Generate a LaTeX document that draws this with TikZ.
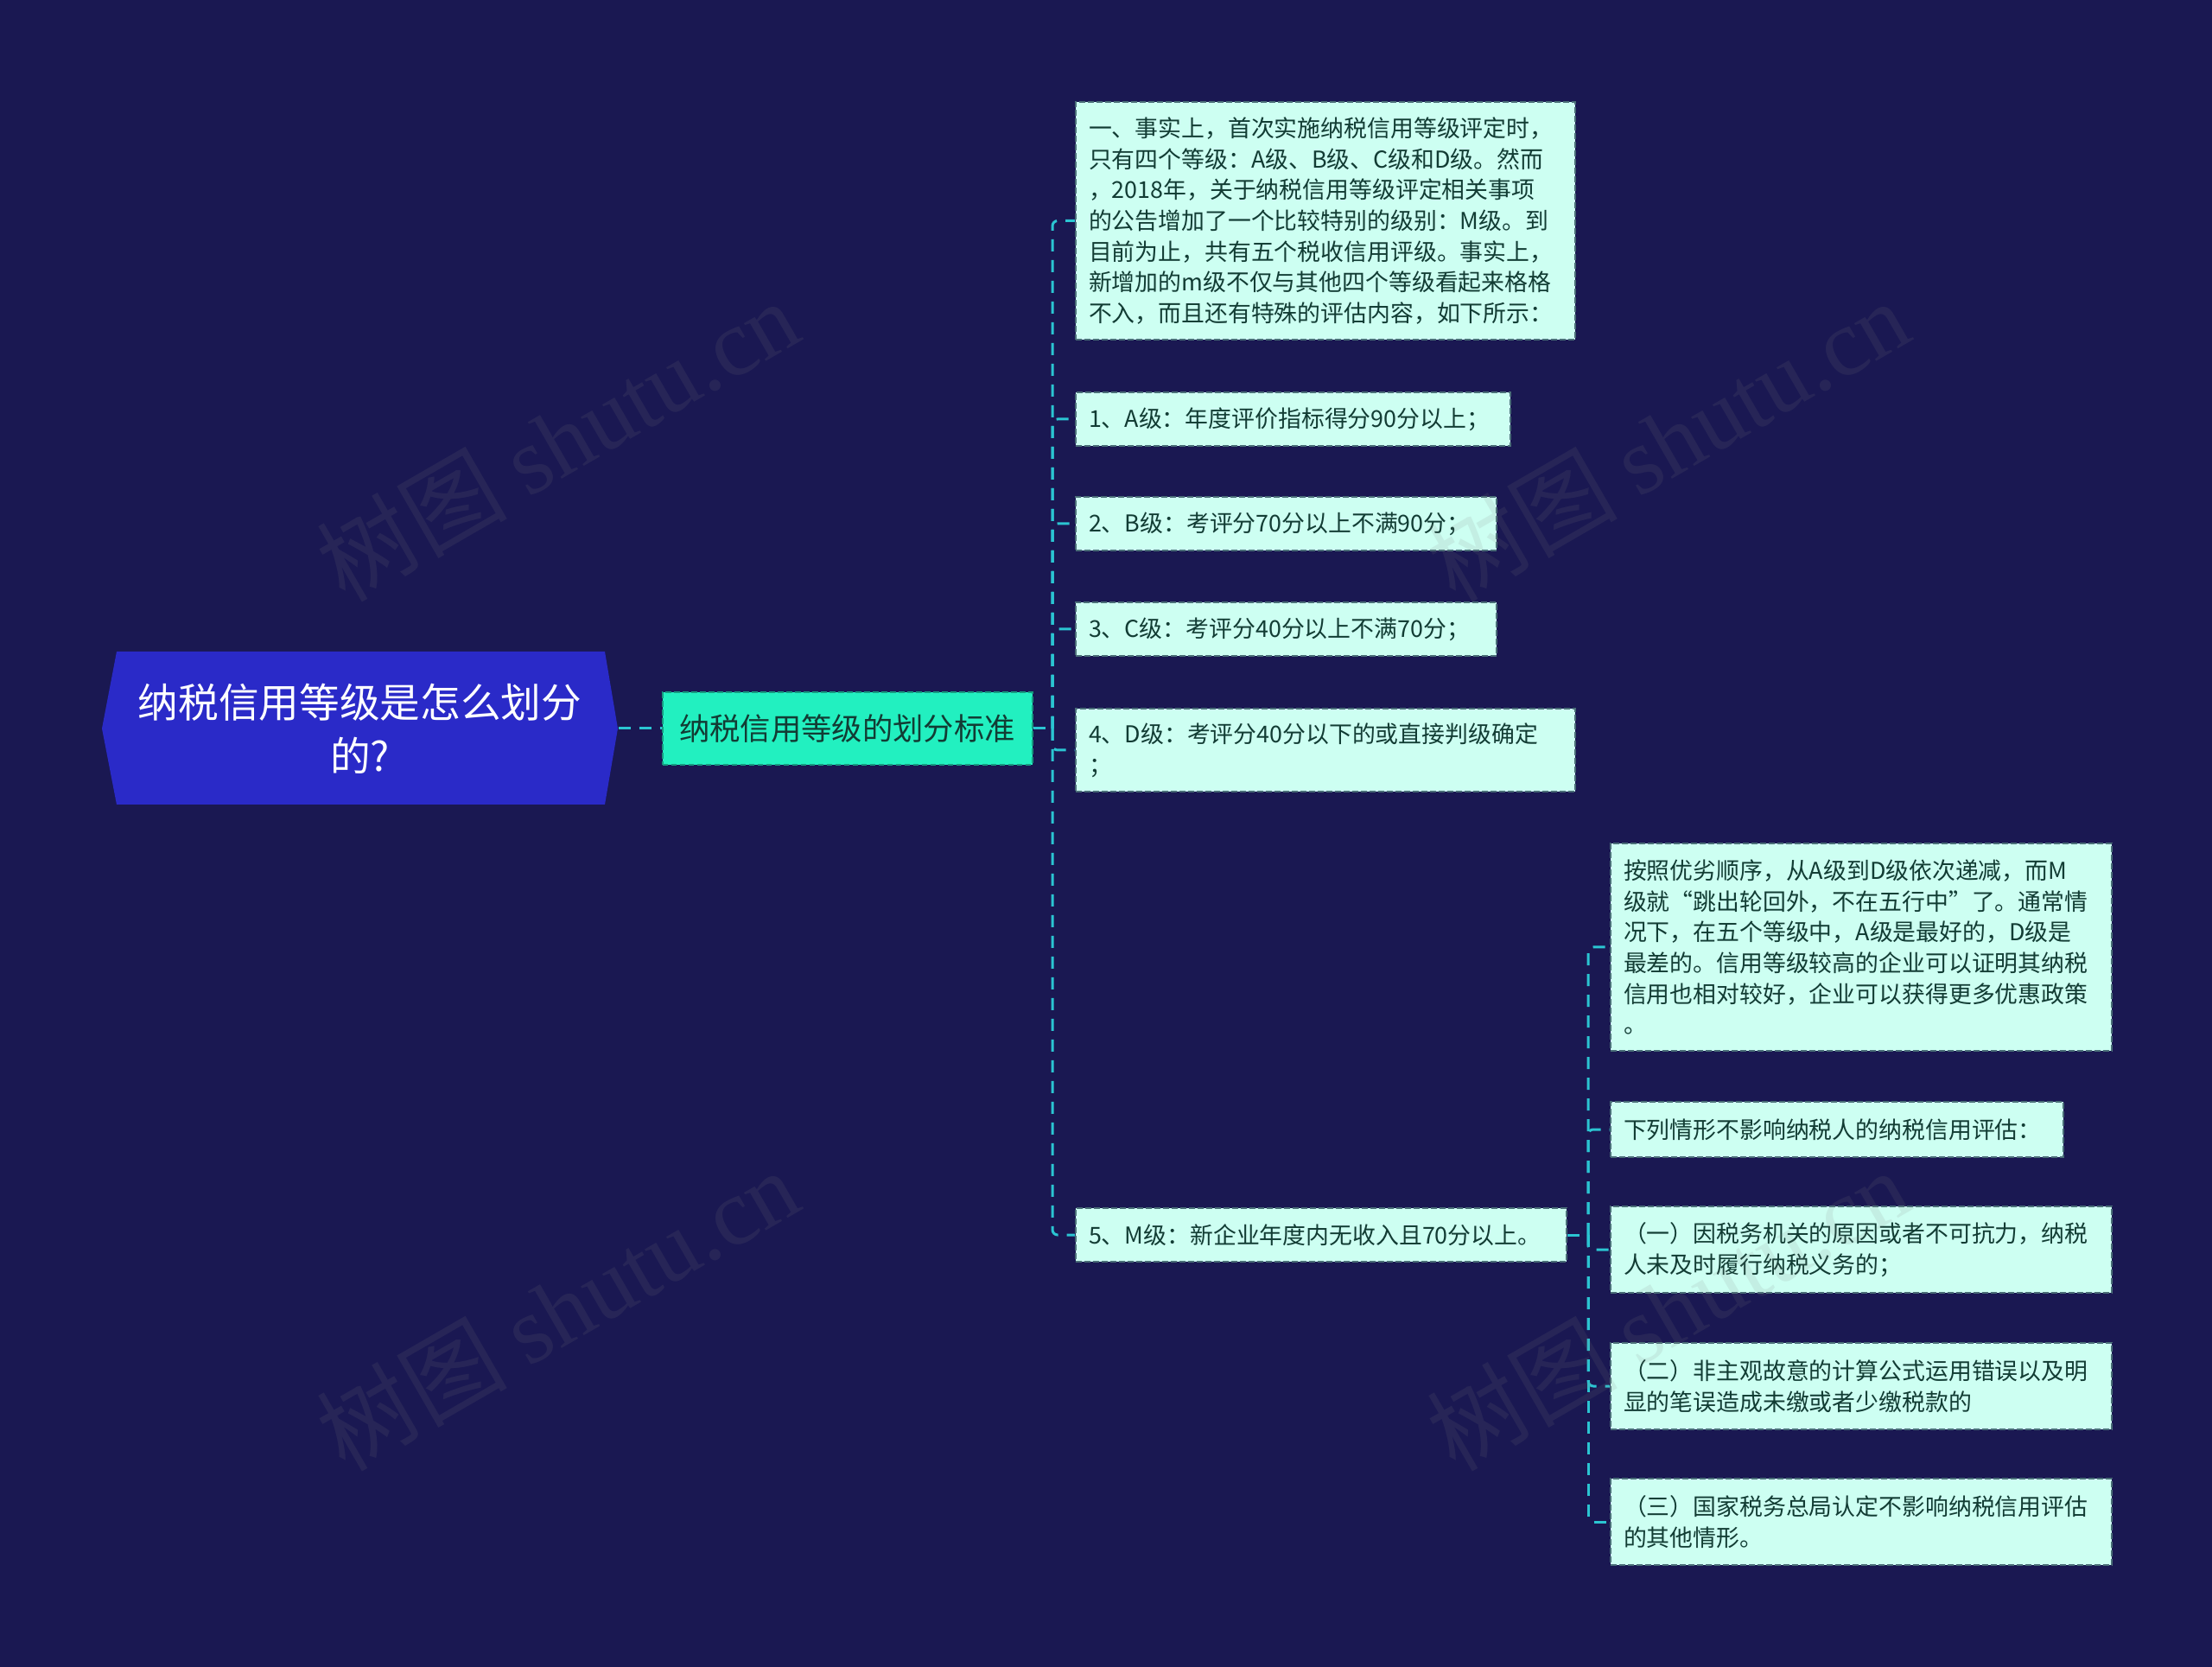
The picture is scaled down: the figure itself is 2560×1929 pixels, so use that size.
\documentclass[tikz,border=0pt]{standalone}
\usepackage{fontspec}
\setmainfont{Noto Sans CJK SC}
\newfontfamily\wmserif{Liberation Serif}
\definecolor{bgc}{HTML}{1A1852}
\definecolor{rootc}{HTML}{2A2AC8}
\definecolor{secc}{HTML}{22F0C0}
\definecolor{secb}{HTML}{169A80}
\definecolor{leafc}{HTML}{CDFFF2}
\definecolor{leafb}{HTML}{4A6E78}
\definecolor{leaft}{HTML}{123C34}
\definecolor{connc}{HTML}{2BC5D2}
\tikzset{
  conn/.style={draw=connc, line width=0.9pt, dash pattern=on 4.2pt off 3pt, rounded corners=1.8pt},
  leaf/.style={rectangle, anchor=west, fill=leafc, draw=leafb, line width=0.6pt,
    dash pattern=on 2pt off 1pt, inner xsep=4.5pt, inner ysep=0pt, align=left,
    text=leaft, font=\fontsize{8.06pt}{10.7pt}\selectfont},
  secbox/.style={rectangle, fill=secc, draw=secb, line width=0.6pt, dash pattern=on 2pt off 1pt,
    inner sep=0pt, text=leaft, font=\fontsize{10.6pt}{13pt}\selectfont},
  roottext/.style={inner sep=0pt, align=center, text=white, font=\fontsize{14pt}{18.6pt}\selectfont},
  wm/.style={text=gray, opacity=0.13, font=\fontsize{33pt}{37pt}\selectfont, rotate=30}
}
\begin{document}
\begin{tikzpicture}[x=0.3pt, y=-0.3pt]
\useasboundingbox (0,0) rectangle (2560,1929);
\fill[bgc] (0,0) rectangle (2560,1929);

% root hexagon
\fill[rootc] (118,843) -- (135,754) -- (700,754) -- (715,843) -- (700,931) -- (135,931) -- cycle;
\node[roottext, minimum width=179.1pt, minimum height=53.1pt] (root) at (416.5,843)
  {纳税信用等级是怎么划分\\的?};

\node[secbox, minimum width=128.4pt, minimum height=25.2pt] (sec) at (980.5,843) {纳税信用等级的划分标准};

% level-1 leaves
\node[leaf, text width=164.4pt, minimum height=82.5pt] (L1) at (1244,255.5)
  {一、事实上，首次实施纳税信用等级评定时，\\只有四个等级：A级、B级、C级和D级。然而\\，2018年，关于纳税信用等级评定相关事项\\的公告增加了一个比较特别的级别：M级。到\\目前为止，共有五个税收信用评级。事实上，\\新增加的m级不仅与其他四个等级看起来格格\\不入，而且还有特殊的评估内容，如下所示：};
\node[leaf, text width=141.9pt, minimum height=18.6pt] (L2) at (1244,485)
  {1、A级：年度评价指标得分90分以上；};
\node[leaf, text width=137.1pt, minimum height=18.6pt] (L3) at (1244,606)
  {2、B级：考评分70分以上不满90分；};
\node[leaf, text width=137.1pt, minimum height=18.6pt] (L4) at (1244,728)
  {3、C级：考评分40分以上不满70分；};
\node[leaf, text width=164.4pt, minimum height=28.8pt] (L5) at (1244,868)
  {4、D级：考评分40分以下的或直接判级确定\\；};
\node[leaf, text width=161.4pt, minimum height=18.6pt] (L6) at (1244,1429)
  {5、M级：新企业年度内无收入且70分以上。};

% level-2 leaves
\node[leaf, text width=165pt, minimum height=72pt] (S1) at (1863,1096)
  {按照优劣顺序，从A级到D级依次递减，而M\\级就“跳出轮回外，不在五行中”了。通常情\\况下，在五个等级中，A级是最好的，D级是\\最差的。信用等级较高的企业可以证明其纳税\\信用也相对较好，企业可以获得更多优惠政策\\。};
\node[leaf, text width=148.2pt, minimum height=19.2pt] (S2) at (1863,1307)
  {下列情形不影响纳税人的纳税信用评估：};
\node[leaf, text width=165pt, minimum height=30pt] (S3) at (1863,1446)
  {（一）因税务机关的原因或者不可抗力，纳税\\人未及时履行纳税义务的；};
\node[leaf, text width=165pt, minimum height=30pt] (S4) at (1863,1604)
  {（二）非主观故意的计算公式运用错误以及明\\显的笔误造成未缴或者少缴税款的};
\node[leaf, text width=165pt, minimum height=30pt] (S5) at (1863,1761)
  {（三）国家税务总局认定不影响纳税信用评估\\的其他情形。};

% connectors
\coordinate (sp) at (1218,843);
\coordinate (sp2) at (1838,1429);
\draw[conn] (root.east) -- (sec.west);
\draw[conn] (sec.east) -- (sp);
\foreach \n in {L1,L2,L3,L4,L5,L6} { \draw[conn] (sp) |- (\n.west); }
\draw[conn] (L6.east) -- (sp2);
\foreach \n in {S1,S2,S3,S4,S5} { \draw[conn] (sp2) |- (\n.west); }

% watermarks
\node[wm] (wm1) at (645,509) {树图 {\wmserif shutu.cn}};
\node[wm] (wm2) at (1930,509) {树图 {\wmserif shutu.cn}};
\node[wm] (wm3) at (645,1515) {树图 {\wmserif shutu.cn}};
\node[wm] (wm4) at (1930,1515) {树图 {\wmserif shutu.cn}};
\end{tikzpicture}
\end{document}
